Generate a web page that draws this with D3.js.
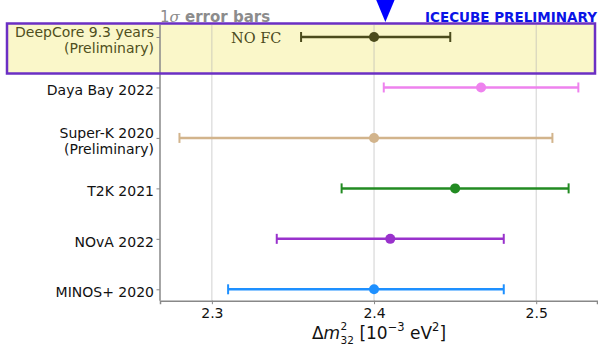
<!DOCTYPE html>
<html>
<head>
<meta charset="utf-8">
<script src="https://cdn.jsdelivr.net/npm/d3@7"></script>
<style>
  body { margin: 0; background: #fff; }
  svg { display: block; font-family: "DejaVu Sans", sans-serif; }
</style>
</head>
<body>
<div id="chart"></div>
<script>
// experiments, top to bottom
const experiments = ['DeepCore 9.3 years\n(Preliminary)', 'Daya Bay 2022', 'Super-K 2020\n(Preliminary)', 'T2K 2021', 'NOvA 2022', 'MINOS+ 2020'];
const centers = [2.400, 2.466, 2.400, 2.450, 2.410, 2.400];
const errLow  = [0.045, 0.060, 0.120, 0.070, 0.070, 0.090];
const errHigh = [0.047, 0.060, 0.110, 0.070, 0.070, 0.080];
const colors  = ['#4b4b1c', '#ee82ee', '#d2b48c', '#228b22', '#9932cc', '#1e90ff'];
const xTicks  = [2.3, 2.4, 2.5];
const icecubeMarker = 2.407;

const W = 598, H = 346;
const svg = d3.select('#chart').append('svg').attr('width', W).attr('height', H);

const x = d3.scaleLinear().domain([2.268, 2.5375]).range([160, 597]);
const y = d3.scalePoint().domain(experiments).range([37, 289.3]);
const plotTop = 25, plotBottom = 300.7;

const rows = experiments.map((name, i) => ({
  name, c: centers[i], lo: centers[i] - errLow[i], hi: centers[i] + errHigh[i], color: colors[i]
}));

// highlight box fill (border drawn later)
svg.append('rect')
  .attr('x', 7).attr('y', 23.5).attr('width', 588).attr('height', 50)
  .attr('fill', '#faf7c9');

// grid
svg.append('g').selectAll('line').data(xTicks).join('line')
  .attr('x1', d => x(d)).attr('x2', d => x(d))
  .attr('y1', plotTop).attr('y2', plotBottom)
  .attr('stroke', '#b0b0b0').attr('stroke-opacity', 0.6).attr('stroke-width', 1);

// axes
const xAxis = svg.append('g')
  .attr('transform', `translate(0,${plotBottom})`)
  .call(d3.axisBottom(x).tickValues(xTicks).tickFormat(d3.format('.1f')).tickSize(3.5).tickPadding(4));
xAxis.select('.domain').attr('stroke', '#888').attr('stroke-width', 1.5);
xAxis.selectAll('.tick line').attr('stroke', '#888');
xAxis.selectAll('.tick text').attr('font-size', 14).attr('fill', '#111').attr('font-family', 'DejaVu Sans');

const yAxis = svg.append('g')
  .attr('transform', 'translate(160,0)')
  .call(d3.axisLeft(y).tickSize(3.5).tickFormat(''));
yAxis.select('.domain').attr('d', `M0,${plotTop}V${plotBottom}`).attr('stroke', '#888').attr('stroke-width', 1.5);
yAxis.selectAll('.tick line').attr('stroke', '#888');

// y labels (possibly two lines)
const labels = svg.append('g').selectAll('text').data(rows).join('text')
  .attr('text-anchor', 'end')
  .attr('font-size', 14)
  .attr('fill', (d, i) => i === 0 ? '#4f4f20' : '#111');
labels.each(function (d) {
  const lines = d.name.split('\n');
  const t = d3.select(this);
  const y0 = y(d.name) - (lines.length - 1) * 8 + 3;
  lines.forEach((ln, k) => {
    t.append('tspan').attr('x', 154).attr('y', y0 + k * 16).attr('dy', '0.35em').text(ln);
  });
});

// error bars
const bars = svg.append('g').selectAll('g').data(rows).join('g')
  .attr('transform', d => `translate(0,${y(d.name)})`);
bars.append('line')
  .attr('x1', d => x(d.lo)).attr('x2', d => x(d.hi))
  .attr('stroke', d => d.color).attr('stroke-width', 2.5);
bars.append('line')
  .attr('x1', d => x(d.lo)).attr('x2', d => x(d.lo)).attr('y1', -5).attr('y2', 5)
  .attr('stroke', d => d.color).attr('stroke-width', 2);
bars.append('line')
  .attr('x1', d => x(d.hi)).attr('x2', d => x(d.hi)).attr('y1', -5).attr('y2', 5)
  .attr('stroke', d => d.color).attr('stroke-width', 2);
bars.append('circle')
  .attr('cx', d => x(d.c)).attr('r', 5)
  .attr('fill', d => d.color);

// NO FC annotation
svg.append('text')
  .attr('x', 231).attr('y', 38).attr('dy', '0.35em')
  .attr('font-family', 'DejaVu Serif').attr('font-size', 14.5)
  .attr('fill', '#4b4b1c').text('NO FC');

// title
const title = svg.append('text').attr('x', 160).attr('y', 22).attr('font-size', 15).attr('fill', '#8c8c8c');
title.append('tspan').text('1');
title.append('tspan').attr('font-family', 'DejaVu Serif').attr('font-style', 'italic').text('σ');
title.append('tspan').attr('font-weight', 'bold').text('\u00a0error bars');

svg.append('text')
  .attr('x', 597).attr('y', 22).attr('text-anchor', 'end')
  .attr('font-size', 13.5).attr('font-weight', 'bold').attr('fill', '#0a14e6')
  .text('ICECUBE PRELIMINARY');

// highlight box border
svg.append('rect')
  .attr('x', 7).attr('y', 23.5).attr('width', 588).attr('height', 50)
  .attr('fill', 'none').attr('stroke', '#6b2fc4').attr('stroke-width', 2.5);

// IceCube marker triangle
const tx = x(icecubeMarker);
svg.append('path')
  .attr('d', `M${tx - 10},-2L${tx + 10},-2L${tx},22Z`)
  .attr('fill', '#0000ff');

// x axis label: Δm²₃₂ [10⁻³ eV²], one text element with stacked sup/sub
const xl = svg.append('text')
  .attr('x', 379).attr('y', 339).attr('text-anchor', 'middle')
  .attr('font-size', 17).attr('fill', '#111');
xl.append('tspan').text('Δ');
xl.append('tspan').attr('font-style', 'oblique').text('m');
const sup = xl.append('tspan').attr('font-size', 10.5).attr('dx', 0.5).attr('dy', -9).text('2');
const supW = sup.node().getComputedTextLength();
xl.append('tspan').attr('font-size', 10.5).attr('dx', -supW).attr('dy', 13.5).text('32');
xl.append('tspan').attr('dy', -4.5).text('\u00a0[10');
xl.append('tspan').attr('font-size', 11.5).attr('dy', -8).text('−3');
xl.append('tspan').attr('dy', 8).text('\u00a0eV');
xl.append('tspan').attr('font-size', 11.5).attr('dy', -8).text('2');
xl.append('tspan').attr('dy', 8).text(']');
</script>
</body>
</html>
